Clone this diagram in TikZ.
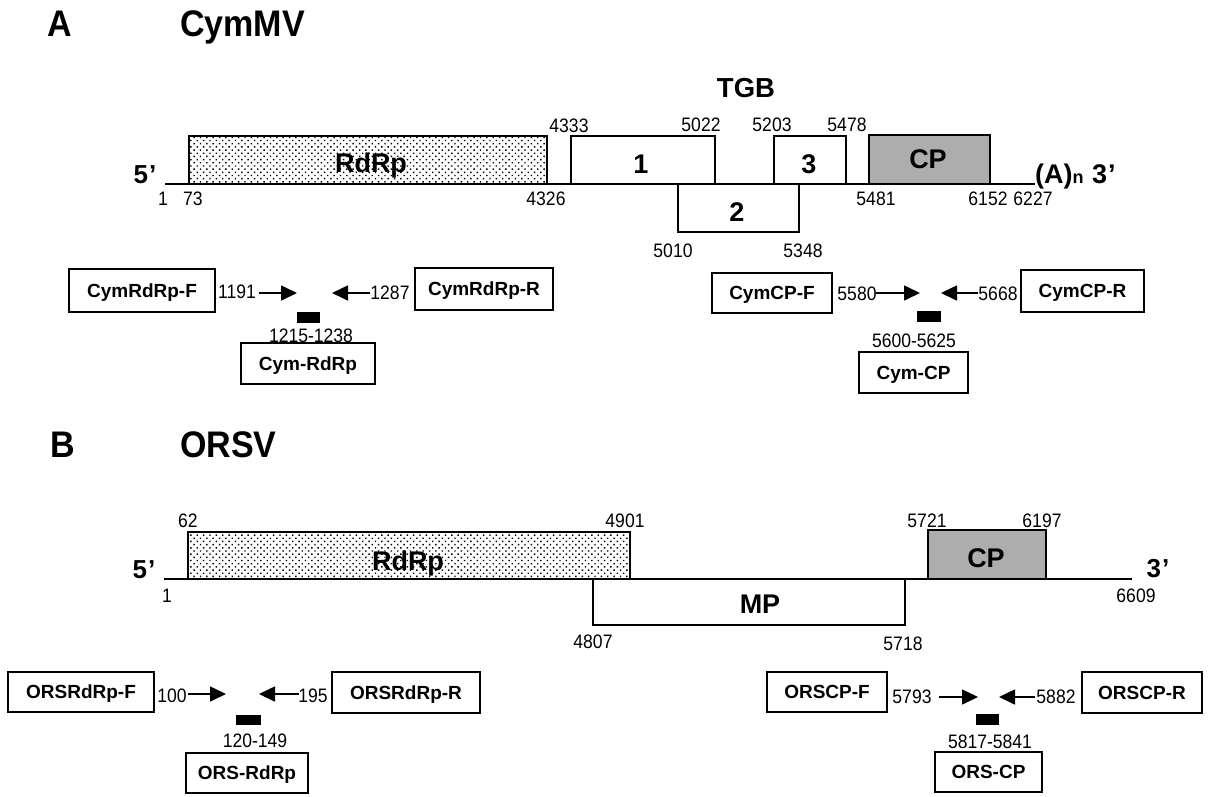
\documentclass[tikz,border=0pt]{standalone}
\usepackage{fontspec}
\setmainfont{Liberation Sans}
\newfontfamily\numfont[FakeStretch=0.9]{Liberation Sans}
\newfontfamily\headfont[FakeStretch=0.92]{Liberation Sans}
\usetikzlibrary{arrows.meta,patterns.meta}
\tikzset{
  gbox/.style={draw, line width=1.6pt, inner sep=0pt},
  dotfill/.style={pattern={Dots[distance=4.5pt, angle=45, radius=1pt]}, pattern color=black},
  cpfill/.style={fill=black!32},
  glabel/.style={inner sep=0pt, anchor=base, font=\bfseries\fontsize{27}{27}\selectfont},
  pbox/.style={draw, line width=1.4pt, inner sep=0pt, text height=13.6pt, text depth=0pt, font=\bfseries\fontsize{19}{19}\selectfont},
  num/.style={inner sep=0pt, anchor=base, font=\numfont\fontsize{19.5}{19.5}\selectfont},
  head/.style={inner sep=0pt, anchor=base west, font=\headfont\bfseries\fontsize{37}{37}\selectfont},
  endlabel/.style={inner sep=0pt, anchor=base, font=\bfseries\fontsize{26}{26}\selectfont},
  genome/.style={line width=2pt},
  arr/.style={line width=1.6pt, -{Triangle[length=16pt,width=15pt]}},
  probe/.style={fill=black, inner sep=0pt}
}
\begin{document}
\begin{tikzpicture}[x=1pt,y=-1pt]
\useasboundingbox (0,0) rectangle (1211,796);
% ================= A =================
\node[head] (hA) at (47,36) {A};
\node[head] (hCym) at (180,36) {CymMV};
\node[inner sep=0pt, anchor=base, font=\bfseries\fontsize{27.5}{27.5}\selectfont] (tgb) at (746,97) {TGB};

\coordinate (gA5) at (165,184);
\coordinate (gA3) at (1035,184);
\draw[genome] (gA5) -- (gA3);

\node[gbox, dotfill, minimum width=358pt, minimum height=48pt] (rdrpA) at (368,160) {};
\node[gbox, fill=white, minimum width=144pt, minimum height=48pt] (tgb1) at (643,160) {};
\node[gbox, fill=white, minimum width=121pt, minimum height=48pt] (tgb2) at (738.5,208) {};
\node[gbox, fill=white, minimum width=72pt, minimum height=48pt] (tgb3) at (810,160) {};
\node[gbox, cpfill, minimum width=121pt, minimum height=49pt] (cpA) at (929.5,159.5) {};

\node[glabel] (rdrpAl) at (371,172) {RdRp};
\node[glabel] (tgb1l) at (641,173) {1};
\node[glabel] (tgb2l) at (737,221) {2};
\node[glabel] (tgb3l) at (809,173) {3};
\node[glabel] (cpAl) at (928,168) {CP};

\node[endlabel] (fiveA) at (145,183) {5\kern1pt’};
\node[inner sep=0pt, anchor=base west, font=\bfseries\fontsize{27}{27}\selectfont] (threeA) at (1035,183) {(A){\fontsize{18}{18}\selectfont n}\kern1pt{} 3\kern1pt’};

\node[num] (a1) at (163,205) {1};
\node[num] (a73) at (193,205) {73};
\node[num] (a4326) at (546,205) {4326};
\node[num] (a4333) at (569,132) {4333};
\node[num] (a5022) at (701,131) {5022};
\node[num] (a5203) at (772,131) {5203};
\node[num] (a5478) at (847,131) {5478};
\node[num] (a5010) at (673,257) {5010};
\node[num] (a5348) at (803,257) {5348};
\node[num] (a5481) at (876,205) {5481};
\node[num] (a6152) at (988,205) {6152};
\node[num] (a6227) at (1033,205) {6227};

% primers A - RdRp
\node[pbox, minimum width=146pt, minimum height=43pt] (cymrF) at (142,290.5) {CymRdRp-F};
\node[pbox, minimum width=138pt, minimum height=42pt] (cymrR) at (484,289) {CymRdRp-R};
\node[pbox, minimum width=134pt, minimum height=41pt] (cymr) at (308,363.5) {Cym-RdRp};
\node[num] (n1191) at (237,298) {1191};
\node[num] (n1287) at (390,299) {1287};
\node[num] (n1215) at (311,342) {1215-1238};
\node[probe, minimum width=23pt, minimum height=11pt] (barA1) at (308.5,317.5) {};
\coordinate (tA1) at (259,293); \coordinate (hA1) at (297,293);
\coordinate (tA2) at (370,293); \coordinate (hA2) at (332,293);
\draw[arr] (tA1) -- (hA1);
\draw[arr] (tA2) -- (hA2);

% primers A - CP
\node[pbox, minimum width=120pt, minimum height=40pt] (cymcF) at (772,293) {CymCP-F};
\node[pbox, minimum width=123pt, minimum height=42pt] (cymcR) at (1082.5,291) {CymCP-R};
\node[pbox, minimum width=109pt, minimum height=41pt] (cymc) at (913.5,372.5) {Cym-CP};
\node[num] (n5580) at (857,300) {5580};
\node[num] (n5668) at (998,300) {5668};
\node[num] (n5600) at (914,347) {5600-5625};
\node[probe, minimum width=24pt, minimum height=11pt] (barA2) at (929,316.5) {};
\coordinate (tA3) at (876,293); \coordinate (hA3) at (920,293);
\coordinate (tA4) at (978,293); \coordinate (hA4) at (941,293);
\draw[arr] (tA3) -- (hA3);
\draw[arr] (tA4) -- (hA4);

% ================= B =================
\node[head] (hB) at (50,457) {B};
\node[head] (hOrs) at (180,457) {ORSV};

\coordinate (gB5) at (164,579);
\coordinate (gB3) at (1132,579);
\draw[genome] (gB5) -- (gB3);

\node[gbox, dotfill, minimum width=442pt, minimum height=47pt] (rdrpB) at (409,555.5) {};
\node[gbox, fill=white, minimum width=312pt, minimum height=46pt] (mp) at (749,602) {};
\node[gbox, cpfill, minimum width=118pt, minimum height=49pt] (cpB) at (987,554.5) {};

\node[glabel] (rdrpBl) at (408,570) {RdRp};
\node[glabel] (mpl) at (760,613) {MP};
\node[glabel] (cpBl) at (986,567) {CP};

\node[endlabel] (fiveB) at (144,578) {5\kern1pt’};
\node[endlabel] (threeB) at (1158,577) {3\kern1pt’};

\node[num] (b1) at (167,602) {1};
\node[num] (b62) at (188,527) {62};
\node[num] (b4901) at (625,527) {4901};
\node[num] (b4807) at (593,648) {4807};
\node[num] (b5718) at (903,650) {5718};
\node[num] (b5721) at (927,527) {5721};
\node[num] (b6197) at (1042,527) {6197};
\node[num] (b6609) at (1136,602) {6609};

% primers B - RdRp
\node[pbox, minimum width=146pt, minimum height=40pt] (orsrF) at (81,692) {ORSRdRp-F};
\node[pbox, minimum width=148pt, minimum height=41pt] (orsrR) at (406,692.5) {ORSRdRp-R};
\node[pbox, minimum width=122pt, minimum height=40pt] (orsr) at (247,773) {ORS-RdRp};
\node[num] (n100) at (172,702) {100};
\node[num] (n195) at (313,702) {195};
\node[num] (n120) at (255,747) {120-149};
\node[probe, minimum width=25pt, minimum height=10pt] (barB1) at (248.5,720) {};
\coordinate (tB1) at (188,694); \coordinate (hB1) at (226,694);
\coordinate (tB2) at (299,694); \coordinate (hB2) at (259,694);
\draw[arr] (tB1) -- (hB1);
\draw[arr] (tB2) -- (hB2);

% primers B - CP
\node[pbox, minimum width=120pt, minimum height=40pt] (orscF) at (827,692) {ORSCP-F};
\node[pbox, minimum width=120pt, minimum height=41pt] (orscR) at (1142,692.5) {ORSCP-R};
\node[pbox, minimum width=107pt, minimum height=40pt] (orsc) at (988.5,772) {ORS-CP};
\node[num] (n5793) at (912,703) {5793};
\node[num] (n5882) at (1056,703) {5882};
\node[num] (n5817) at (990,748) {5817-5841};
\node[probe, minimum width=23pt, minimum height=11pt] (barB2) at (987.5,719.5) {};
\coordinate (tB3) at (939,697); \coordinate (hB3) at (978,697);
\coordinate (tB4) at (1035,697); \coordinate (hB4) at (999,697);
\draw[arr] (tB3) -- (hB3);
\draw[arr] (tB4) -- (hB4);
\end{tikzpicture}
\end{document}
